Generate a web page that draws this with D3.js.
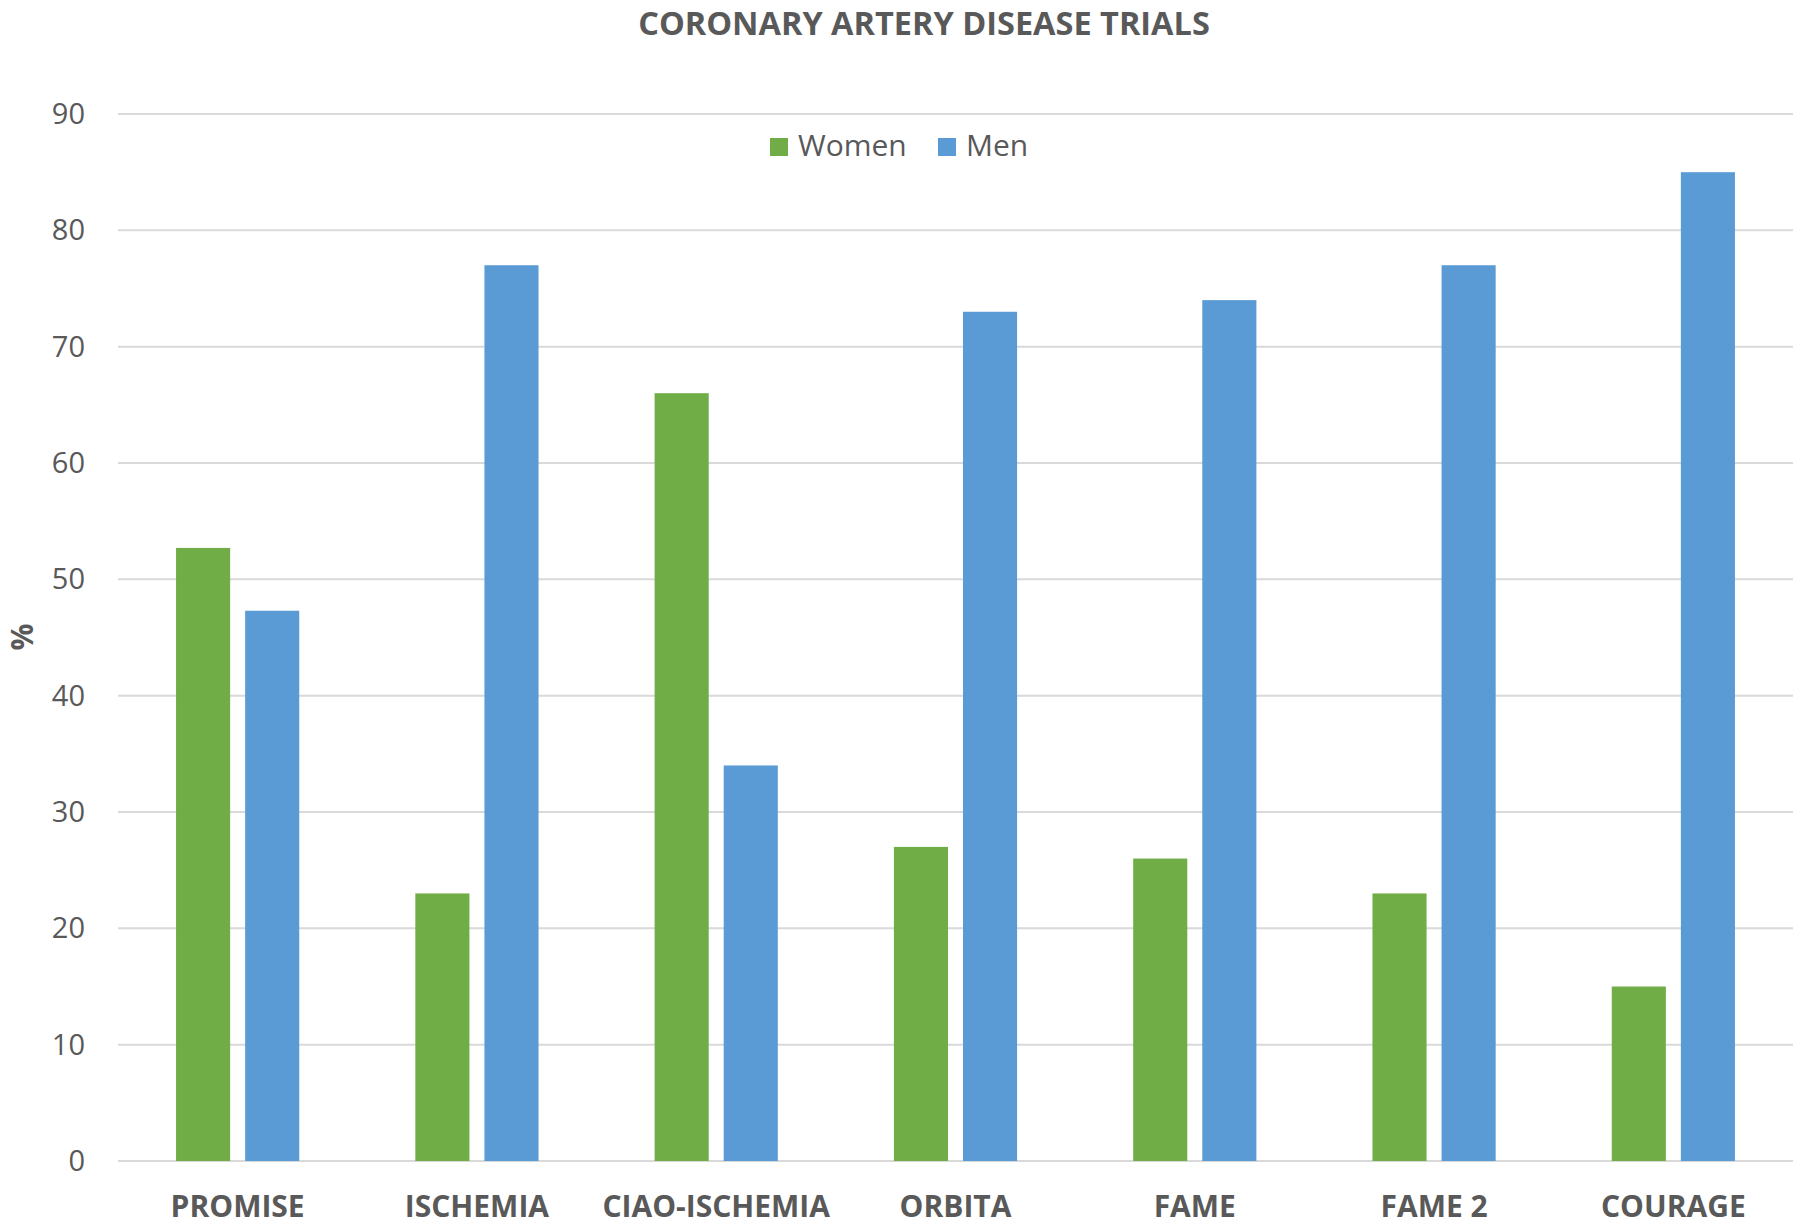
<!DOCTYPE html>
<html>
<head>
<meta charset="utf-8">
<script src="https://cdn.jsdelivr.net/npm/d3@7"></script>
<style>
  body { margin: 0; background: #fff; }
  text { font-family: "Open Sans", sans-serif; fill: #595959; }
</style>
</head>
<body>
<svg id="chart"></svg>
<script>
var trials = ["PROMISE", "ISCHEMIA", "CIAO-ISCHEMIA", "ORBITA", "FAME", "FAME 2", "COURAGE"];
var series = ["Women", "Men"];
var women = [52.7, 23, 66, 27, 26, 23, 15];
var men = [47.3, 77, 34, 73, 74, 77, 85];
var yTicks = [0, 10, 20, 30, 40, 50, 60, 70, 80, 90];
var colors = ["#70AD47", "#5B9BD5"];

var width = 1800, height = 1225;
var margin = {top: 114, right: 7, bottom: 64, left: 118};

var svg = d3.select("#chart")
  .attr("width", width)
  .attr("height", height);

var x0 = d3.scaleBand()
  .domain(trials)
  .range([margin.left, width - margin.right]);

var x1 = d3.scaleBand()
  .domain(series)
  .range([0, x0.bandwidth()])
  .paddingInner(0.217)
  .paddingOuter(0.84);

var y = d3.scaleLinear()
  .domain([0, 90])
  .range([height - margin.bottom, margin.top]);

// gridlines
svg.append("g")
  .selectAll("line")
  .data(yTicks)
  .enter().append("line")
  .attr("x1", margin.left)
  .attr("x2", width - margin.right)
  .attr("y1", function(d) { return y(d); })
  .attr("y2", function(d) { return y(d); })
  .attr("stroke", "#D9D9D9")
  .attr("stroke-width", 2);

// y tick labels
svg.append("g")
  .selectAll("text")
  .data(yTicks)
  .enter().append("text")
  .attr("x", 85)
  .attr("y", function(d) { return y(d) + 10; })
  .attr("text-anchor", "end")
  .style("font-size", "29px")
  .text(function(d) { return d; });

// bars
var rows = trials.map(function(t, i) {
  return {trial: t, values: [women[i], men[i]]};
});

var groups = svg.append("g")
  .selectAll("g")
  .data(rows)
  .enter().append("g")
  .attr("transform", function(d) { return "translate(" + x0(d.trial) + ",0)"; });

groups.selectAll("rect")
  .data(function(d) { return d.values.map(function(v, j) { return {key: series[j], value: v, idx: j}; }); })
  .enter().append("rect")
  .attr("x", function(d) { return x1(d.key); })
  .attr("y", function(d) { return y(d.value); })
  .attr("width", x1.bandwidth())
  .attr("height", function(d) { return y(0) - y(d.value); })
  .attr("fill", function(d) { return colors[d.idx]; });

// category labels
svg.append("g")
  .selectAll("text")
  .data(trials)
  .enter().append("text")
  .attr("x", function(d) { return x0(d) + x0.bandwidth() / 2; })
  .attr("y", 1217)
  .attr("text-anchor", "middle")
  .style("font-size", "30px")
  .style("font-weight", "bold")
  .text(function(d) { return d; });

// title
svg.append("text")
  .attr("x", 924)
  .attr("y", 35)
  .attr("text-anchor", "middle")
  .style("font-size", "32.5px")
  .style("font-weight", "bold")
  .text("CORONARY ARTERY DISEASE TRIALS");

// y axis label
svg.append("text")
  .attr("transform", "translate(33,637) rotate(-90)")
  .attr("text-anchor", "middle")
  .style("font-size", "30px")
  .style("font-weight", "bold")
  .text("%");

// legend
var legendX = [770, 938];
var legend = svg.append("g")
  .selectAll("g")
  .data(series)
  .enter().append("g")
  .attr("transform", function(d, i) { return "translate(" + legendX[i] + ",138)"; });

legend.append("rect")
  .attr("width", 18)
  .attr("height", 18)
  .attr("fill", function(d, i) { return colors[i]; });

legend.append("text")
  .attr("x", 28)
  .attr("y", 18)
  .style("font-size", "30px")
  .text(function(d) { return d; });
</script>
</body>
</html>
